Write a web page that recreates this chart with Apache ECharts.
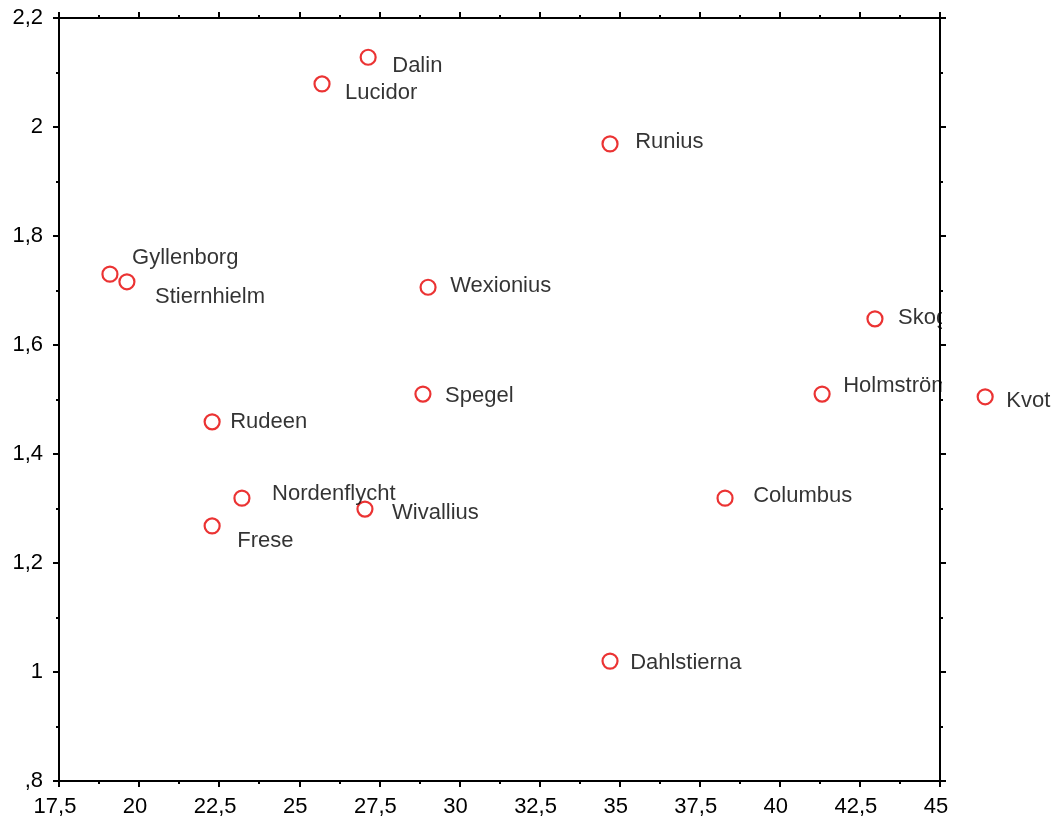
<!DOCTYPE html>
<html>
<head>
<meta charset="utf-8">
<script src="https://cdn.jsdelivr.net/npm/echarts@6/dist/echarts.min.js"></script>
<style>
  html, body { margin: 0; padding: 0; background: #fff; }
  #chart { width: 1055px; height: 820px; }
</style>
</head>
<body>
<div id="chart"></div>
<script>
// ---- data ----
const names = ['Dalin', 'Lucidor', 'Runius', 'Gyllenborg', 'Stiernhielm', 'Wexionius', 'Skog',
  'Spegel', 'Holmström', 'Kvot', 'Rudeen', 'Nordenflycht', 'Columbus', 'Wivallius', 'Frese', 'Dahlstierna'];
const xValues = [27.15, 25.71, 34.70, 19.09, 19.62, 29.02, 42.97,
  28.86, 41.32, 46.41, 22.28, 23.21, 38.29, 27.05, 22.28, 34.70];
const yValues = [2.128, 2.079, 1.969, 1.730, 1.716, 1.706, 1.648,
  1.510, 1.510, 1.505, 1.459, 1.319, 1.319, 1.299, 1.268, 1.020];
const xTicks = { min: 17.5, max: 45, interval: 2.5 };
const yTicks = { min: 0.8, max: 2.2, interval: 0.2 };

// ---- layout (label placement, px relative to point centre) ----
const labelOffsets = [[23, 9], [22, 9], [24, -2], [21, -16], [27, 15], [21, -1], [22, -1],
  [21, 2], [20, -8], [20, 4], [17, 0], [29, -4], [27, -2], [26, 4], [24, 15], [19, 2]];

const W = 1055, H = 820;
const GRID = { left: 59, right: 115, top: 18, bottom: 39 };
const FONT = 'Liberation Sans, Arial, sans-serif';
const SYM = 15;
const RED = '#e60000';

const fmtX = v => String(v).replace('.', ',');
const fmtY = v => {
  let s = String(Math.round(v * 10) / 10).replace('.', ',');
  if (s.startsWith('0,')) s = s.slice(1);
  return s;
};

function axisCommon(extra) {
  return Object.assign({
    type: 'value',
    z: 10,
    axisLine: { show: true, onZero: false, lineStyle: { color: '#000', width: 2 } },
    axisTick: { show: true, inside: false, length: 6, lineStyle: { color: '#000', width: 2 } },
    minorTick: { show: true, splitNumber: 2, length: 3, lineStyle: { color: '#000', width: 2 } },
    splitLine: { show: false },
    minorSplitLine: { show: false }
  }, extra);
}

const data = names.map((n, i) => ({ name: n, value: [xValues[i], yValues[i]] }));

const chart = echarts.init(document.getElementById('chart'), null, { renderer: 'canvas' });
chart.setOption({
  animation: false,
  backgroundColor: '#fff',
  grid: Object.assign({ containLabel: false }, GRID),
  xAxis: [
    axisCommon({ position: 'bottom', min: xTicks.min, max: xTicks.max, interval: xTicks.interval,
      axisLabel: { show: true, formatter: fmtX, fontSize: 22, fontFamily: FONT, color: '#000', margin: 15,
        padding: [0, 8, 0, 0], showMinLabel: true, showMaxLabel: true } }),
    axisCommon({ position: 'top', min: xTicks.min, max: xTicks.max, interval: xTicks.interval,
      axisLabel: { show: false } })
  ],
  yAxis: [
    axisCommon({ position: 'left', min: yTicks.min, max: yTicks.max, interval: yTicks.interval,
      axisLabel: { show: true, formatter: fmtY, fontSize: 22, fontFamily: FONT, color: '#000', margin: 16,
        showMinLabel: true, showMaxLabel: true } }),
    axisCommon({ position: 'right', min: yTicks.min, max: yTicks.max, interval: yTicks.interval,
      axisLabel: { show: false } })
  ],
  graphic: [{
    type: 'rect', z: 5, silent: true,
    shape: { x: W - GRID.right + 2, y: 0, width: 34, height: H },
    style: { fill: '#fff' }
  }],
  series: [{
    type: 'scatter',
    xAxisIndex: 0, yAxisIndex: 0,
    clip: false,
    symbol: 'circle',
    symbolSize: SYM,
    itemStyle: { color: 'transparent', borderColor: RED, borderWidth: 2.2 },
    label: {
      show: true, position: 'right', distance: 0,
      formatter: p => p.name,
      fontSize: 22, fontFamily: FONT, color: '#000'
    },
    labelLayout: p => ({
      dx: labelOffsets[p.dataIndex][0] - SYM / 2,
      dy: labelOffsets[p.dataIndex][1],
      hideOverlap: false
    }),
    emphasis: { disabled: true },
    data: data
  }]
});
</script>
</body>
</html>
